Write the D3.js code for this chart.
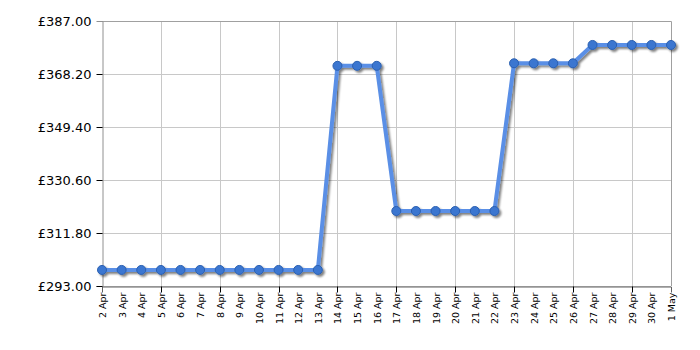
<!DOCTYPE html>
<html><head><meta charset="utf-8">
<script src="https://cdn.jsdelivr.net/npm/d3@7"></script>
<style>body{margin:0;background:#fff}svg{display:block}</style>
</head><body>
<svg id="c" width="700" height="350"></svg>
<script>
const categories = ["2 Apr","3 Apr","4 Apr","5 Apr","6 Apr","7 Apr","8 Apr","9 Apr","10 Apr","11 Apr","12 Apr","13 Apr","14 Apr","15 Apr","16 Apr","17 Apr","18 Apr","19 Apr","20 Apr","21 Apr","22 Apr","23 Apr","24 Apr","25 Apr","26 Apr","27 Apr","28 Apr","29 Apr","30 Apr","1 May"];
const prices = [298.7,298.7,298.7,298.7,298.7,298.7,298.7,298.7,298.7,298.7,298.7,298.7,371.1,371.1,371.1,319.6,319.6,319.6,319.6,319.6,319.6,372.0,372.0,372.0,372.0,378.5,378.5,378.5,378.5,378.5];
const yTicks = [293.00,311.80,330.60,349.40,368.20,387.00];
const gridEvery = 3;

const svg = d3.select("#c");
const L=102,R=671,T=21,B=286;
const x = d3.scalePoint().domain(categories).range([L,R]);
const y = d3.scaleLinear().domain([293,387]).range([B,T]);
const font = "'DejaVu Sans', Verdana, sans-serif";

const defs = svg.append("defs");
const f = defs.append("filter").attr("id","sh").attr("x","-20%").attr("y","-20%").attr("width","140%").attr("height","140%");
f.append("feGaussianBlur").attr("in","SourceAlpha").attr("stdDeviation",1.2).attr("result","b");
f.append("feOffset").attr("in","b").attr("dx",2).attr("dy",2).attr("result","o");
f.append("feComponentTransfer").attr("in","o").attr("result","oa").append("feFuncA").attr("type","linear").attr("slope",0.5);
const m = f.append("feMerge"); m.append("feMergeNode").attr("in","oa"); m.append("feMergeNode").attr("in","SourceGraphic");

// horizontal grid
svg.append("g").selectAll("line").data(yTicks).join("line")
  .attr("x1",L).attr("x2",R).attr("y1",d=>Math.round(y(d))+0.5).attr("y2",d=>Math.round(y(d))+0.5)
  .attr("stroke","#c8c8c8").attr("stroke-width",1);
// vertical grid
const gridCats = categories.filter((c,i)=>i>0 && i%gridEvery===0);
svg.append("g").selectAll("line").data(gridCats).join("line")
  .attr("x1",d=>Math.round(x(d))+0.5).attr("x2",d=>Math.round(x(d))+0.5).attr("y1",T).attr("y2",B)
  .attr("stroke","#c8c8c8").attr("stroke-width",1);
// border
svg.append("path").attr("d",`M${L+0.5},${T+0.5}H${R+0.5}V${B}`).attr("fill","none").attr("stroke","#a0a0a0");

// y axis
const ya = svg.append("g").attr("transform",`translate(${L+0.5},0)`)
  .call(d3.axisLeft(y).tickValues(yTicks).tickSize(6).tickPadding(5).tickFormat(d=>"£"+d.toFixed(2)));
ya.select(".domain").attr("stroke","#909090");
ya.selectAll(".tick line").attr("stroke","#000").filter(d=>d===387).remove();
ya.selectAll("text").attr("font-family",font).attr("font-size",13).attr("fill","#000");
ya.selectAll(".tick").attr("transform",d=>`translate(0,${Math.round(y(d))+0.5})`);

// x axis
const xa = svg.append("g").attr("transform",`translate(0,${B+0.5})`)
  .call(d3.axisBottom(x).tickSize(6).tickPadding(4));
xa.select(".domain").attr("stroke","#606060");
xa.selectAll(".tick line").attr("stroke","#000").attr("opacity",(d,i)=>(i>0 && i%gridEvery===0)?1:0);
xa.selectAll(".tick").attr("transform",d=>`translate(${Math.round(x(d))+0.5},0)`);
xa.selectAll("text").attr("font-family",font).attr("font-size",9.5).attr("fill","#000")
  .attr("transform","rotate(-90)").attr("text-anchor","end").attr("x",-6).attr("y",0).attr("dy","0.35em");

// line
const line = d3.line().x((d,i)=>x(categories[i])).y(d=>y(d));
const g = svg.append("g").attr("filter","url(#sh)");
g.append("path").datum(prices).attr("d",line).attr("fill","none").attr("stroke","#5a8fe6").attr("stroke-width",4).attr("stroke-linejoin","round");
g.selectAll("circle").data(prices).join("circle")
  .attr("cx",(d,i)=>x(categories[i])).attr("cy",d=>y(d)).attr("r",4.5)
  .attr("fill","#3b76d0").attr("stroke","#2a5fb0").attr("stroke-width",1);
</script>
</body></html>
